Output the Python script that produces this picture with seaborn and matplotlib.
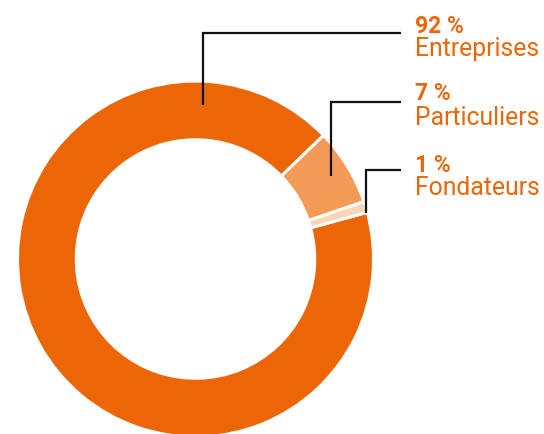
import matplotlib
matplotlib.use("Agg")
import matplotlib.pyplot as plt
import seaborn as sns

# Data
categories = ["Entreprises", "Particuliers", "Fondateurs"]
values = [92, 7, 1]
pct_labels = ["92 %", "7 %", "1 %"]

sns.set_theme(style="white")
plt.rcParams['font.family'] = ['Roboto', 'DejaVu Sans']

colors = ["#EC6608", "#F39A57", "#FCD5B4"]
text_color = "#EC6608"

W, H = 544, 435
fig = plt.figure(figsize=(W / 100, H / 100), dpi=100)
ax = fig.add_axes([0, 0, 1, 1])

cx, cy, R = 195.5, H - 260, 178
ax.pie(values, colors=colors, startangle=15.2, counterclock=False,
       center=(cx, cy), radius=R,
       wedgeprops=dict(width=R * 0.33, edgecolor="white", linewidth=2.2))

ax.set_xlim(0, W)
ax.set_ylim(0, H)
ax.set_aspect("equal")
ax.axis("off")

# Leader lines (pixel positions, y from top)
leaders = [
    [(203, 106), (203, 33.5), (401, 33.5)],
    [(331, 177), (331, 103.3), (401, 103.3)],
    [(365.7, 213.5), (365.7, 171), (401, 171)],
]
for pts in leaders:
    xs = [p[0] for p in pts]
    ys = [H - p[1] for p in pts]
    ax.plot(xs, ys, color="#111111", lw=1.6, solid_capstyle="butt",
            solid_joinstyle="miter")

tx = 414.5
pct_base = [33.3, 100, 172.3]
cat_base = [56, 125, 195]
for p, c, yb1, yb2 in zip(pct_labels, categories, pct_base, cat_base):
    ax.text(tx, H - yb1, p, color=text_color, fontsize=16.5, fontweight="bold",
            va="baseline", ha="left")
    ax.text(tx, H - yb2, c, color=text_color, fontsize=17.8,
            va="baseline", ha="left")

fig.savefig("out.png", dpi=100)
